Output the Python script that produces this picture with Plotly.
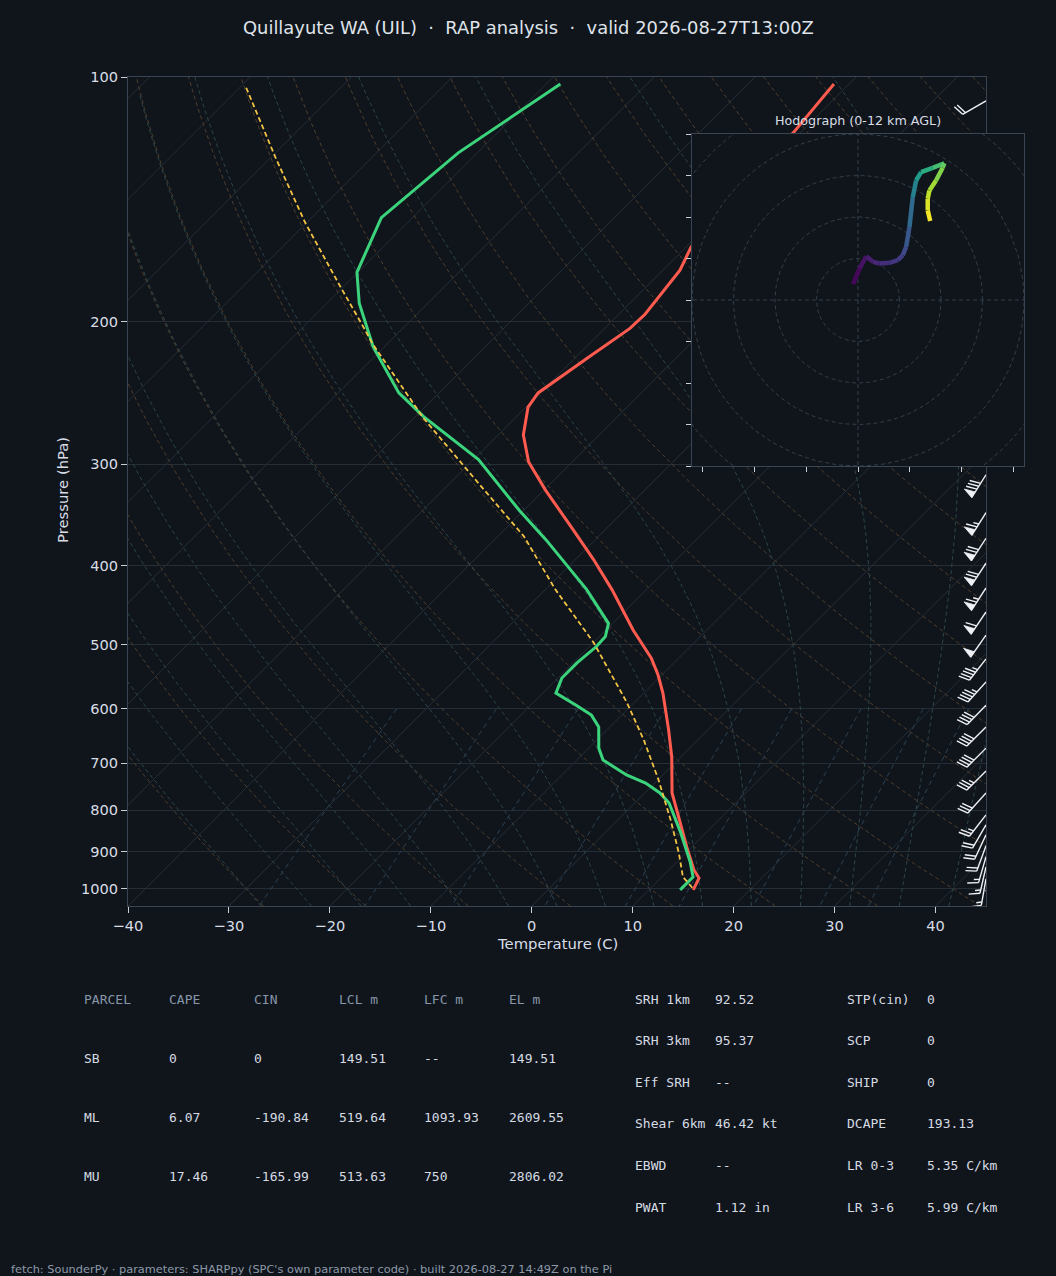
import numpy as np
import plotly.graph_objects as go
from plotly.colors import sample_colorscale

# ---- sounding ----
temp_p = [1003, 970, 948, 888, 806, 762, 688, 637, 574, 545, 520, 480, 428, 393, 361, 323,
          298, 276, 255, 245, 221, 204, 196, 173, 162, 117, 102]
temp_c = [14.4, 13.8, 12.5, 9.5, 5.2, 2.7, -0.9, -3.9, -8.1, -10.4, -12.7, -17.3, -23.4, -28.2,
          -33.2, -39.8, -44.3, -47.5, -49.8, -50.2, -48.7, -47.5, -47.4, -48.3, -49.5, -50.7, -51.5]

dwpt_p = [1003, 967, 926, 853, 784, 762, 741, 724, 694, 671, 632, 611, 594, 574, 550, 527,
          503, 489, 471, 428, 416, 372, 342, 296, 262, 245, 215, 190, 174, 149, 124, 102]
dwpt_c = [13.1, 13.1, 11.3, 7.5, 3.4, 1.5, -0.9, -3.6, -7.4, -9.0, -11.1, -13.0, -15.5, -18.7,
          -19.6, -19.6, -19.3, -19.4, -20.4, -25.9, -27.7, -34.8, -40.4, -49.5, -59.2, -64.0,
          -71.1, -76.8, -80.1, -83.1, -81.9, -78.6]

parcel_p = [997, 967, 903, 822, 734, 655, 590, 498, 428, 368, 311, 263, 213, 203, 179, 151, 126, 103]
parcel_c = [14.1, 12.1, 9.3, 5.2, 0.05, -5.4, -10.7, -19.9, -29.0, -37.4, -48.3, -59.1, -71.5,
            -74.1, -81.0, -90.2, -99.4, -109.4]

# hodograph (kt) and height AGL (km) of each point, 0-12 km
hodo_u = [-2.4, 0.8, 4.0, 7.2, 10.4, 15.2, 19.2, 21.6, 23.2, 24.8, 26.4, 28.0, 30.4, 36.0,
          41.6, 40.8, 37.6, 34.4, 33.6, 33.6, 34.8]
hodo_v = [7.7, 15.2, 21.1, 18.4, 17.6, 17.9, 19.2, 21.6, 25.6, 35.2, 49.6, 57.6, 61.6, 63.7,
          65.9, 63.7, 57.6, 52.8, 48.8, 43.2, 38.1]
hodo_z = [0.0, 0.4, 0.8, 1.1, 1.4, 1.7, 2.0, 2.4, 2.9, 3.6, 4.6, 6.0, 7.0, 7.9,
          8.8, 9.4, 10.0, 10.6, 11.1, 11.6, 12.0]

# wind barbs along the right edge
barb_p = [107, 309, 344, 370, 397, 426, 456, 487, 521, 556, 594, 632, 671, 716, 762, 811,
          834, 858, 885, 913, 940, 972, 1003]
barb_spd = [20, 80, 65, 70, 70, 65, 60, 50, 45, 45, 40, 40, 40, 35, 30, 25,
            20, 20, 20, 15, 15, 15, 5]
barb_dir = [240, 212, 212, 213, 213, 213, 214, 215, 218, 222, 224, 225, 225, 225, 222, 218,
            210, 205, 200, 196, 193, 190, 160]

# parameter tables
parcel_head = ["PARCEL", "CAPE", "CIN", "LCL m", "LFC m", "EL m"]
parcel_rows = [
    ["SB", "0", "0", "149.51", "--", "149.51"],
    ["ML", "6.07", "-190.84", "519.64", "1093.93", "2609.55"],
    ["MU", "17.46", "-165.99", "513.63", "750", "2806.02"],
]
kin_names = ["SRH 1km", "SRH 3km", "Eff SRH", "Shear 6km", "EBWD", "PWAT"]
kin_vals = ["92.52", "95.37", "--", "46.42 kt", "--", "1.12 in"]
idx_names = ["STP(cin)", "SCP", "SHIP", "DCAPE", "LR 0-3", "LR 3-6"]
idx_vals = ["0", "0", "0", "193.13", "5.35 C/km", "5.99 C/km"]

title = "Quillayute WA (UIL)  \u00b7  RAP analysis  \u00b7  valid 2026-08-27T13:00Z"
footer = ("fetch: SounderPy \u00b7 parameters: SHARPpy (SPC's own parameter code) \u00b7 "
          "built 2026-08-27 14:49Z on the Pi")

# ---- look ----
W, H = 1056, 1276
BG = "#10151c"
SPINE = "#3a4553"
GRID = "#252d37"
TXT = "#d8dde6"
MAIN_L, MAIN_R, MAIN_T, MAIN_B = 128, 986, 77, 906
HODO_L, HODO_R, HODO_T, HODO_B = 692, 1024, 134, 466
P_BOT, P_TOP = 1050.0, 100.0
T_MIN, T_MAX = -40, 45

px_per_c = (MAIN_R - MAIN_L) / (T_MAX - T_MIN)
px_per_dec = (MAIN_B - MAIN_T) / np.log10(P_BOT / P_TOP)
SKEW = px_per_dec / px_per_c   # 45 degree isotherms


def skew_x(t, p):
    return np.asarray(t, float) + SKEW * np.log10(P_BOT / np.asarray(p, float))


def joined(lines):
    xs, ys = [], []
    for x, y in lines:
        xs += list(x) + [None]
        ys += list(y) + [None]
    return xs, ys


def sat_vp(tc):
    return 6.112 * np.exp(17.67 * tc / (tc + 243.5))


def moist_lapse(t0, pres):
    # pseudo-adiabat through t0 (C) at 1000 hPa, RK4 in pressure
    def dtdp(tk, p):
        e = sat_vp(tk - 273.15)
        rs = 0.622 * e / (p - e)
        return (287.04 * tk + 2.501e6 * rs) / p / (1005.7 + 2.501e6 ** 2 * rs * 0.622 / (287.04 * tk ** 2))
    out = [t0 + 273.15]
    for p0, p1 in zip(pres[:-1], pres[1:]):
        h = p1 - p0
        t = out[-1]
        k1 = dtdp(t, p0)
        k2 = dtdp(t + h * k1 / 2, p0 + h / 2)
        k3 = dtdp(t + h * k2 / 2, p0 + h / 2)
        k4 = dtdp(t + h * k3, p1)
        out.append(t + h * (k1 + 2 * k2 + 2 * k3 + k4) / 6)
    return np.array(out) - 273.15


fig = go.Figure()

# background: isotherms, dry/moist adiabats, mixing ratio lines
iso = [(skew_x([t, t], [P_BOT, P_TOP]), [P_BOT, P_TOP]) for t in range(-130, 50, 10)]
x, y = joined(iso)
fig.add_trace(go.Scatter(x=x, y=y, mode="lines", line=dict(color=GRID, width=1),
                         hoverinfo="skip", showlegend=False))

pp = np.geomspace(P_BOT, P_TOP, 80)
dry = []
for th in range(-30, 200, 10):
    t = (th + 273.15) * (pp / 1000.0) ** 0.2857 - 273.15
    dry.append((skew_x(t, pp), pp))
x, y = joined(dry)
fig.add_trace(go.Scatter(x=x, y=y, mode="lines", line=dict(color="#4e3e2c", width=1, dash="4px,3px"),
                         hoverinfo="skip", showlegend=False))

moist = []
p_up = np.geomspace(1000, P_TOP, 90)
p_dn = np.linspace(1000, P_BOT, 6)
for t0 in list(range(-30, 0, 5)) + list(np.arange(0, 42.6, 5)):
    tu = moist_lapse(t0, p_up)
    td = moist_lapse(t0, p_dn)
    ps = np.concatenate([p_dn[::-1], p_up[1:]])
    ts = np.concatenate([td[::-1], tu[1:]])
    ok = ts > -120
    moist.append((skew_x(ts[ok], ps[ok]), ps[ok]))
x, y = joined(moist)
fig.add_trace(go.Scatter(x=x, y=y, mode="lines", line=dict(color="#2b4548", width=1, dash="4px,3px"),
                         hoverinfo="skip", showlegend=False))

mix = []
pm = np.linspace(600, P_BOT, 20)
for w in [0.4, 1, 2, 4, 7, 10, 16, 24, 32]:
    e = (w / 1000) * pm / (0.622 + w / 1000)
    le = np.log(e / 6.112)
    td = 243.5 * le / (17.67 - le)
    mix.append((skew_x(td, pm), pm))
x, y = joined(mix)
fig.add_trace(go.Scatter(x=x, y=y, mode="lines", line=dict(color="#2c4152", width=1, dash="5px,4px"),
                         hoverinfo="skip", showlegend=False))

# profiles
fig.add_trace(go.Scatter(x=skew_x(temp_c, temp_p), y=temp_p, mode="lines",
                         line=dict(color="#ff5b4e", width=3), name="T", showlegend=False))
fig.add_trace(go.Scatter(x=skew_x(dwpt_c, dwpt_p), y=dwpt_p, mode="lines",
                         line=dict(color="#3bd47c", width=3), name="Td", showlegend=False))
fig.add_trace(go.Scatter(x=skew_x(parcel_c, parcel_p), y=parcel_p, mode="lines",
                         line=dict(color="#f3c443", width=1.8, dash="5px,3px"),
                         name="parcel", showlegend=False))

# wind barbs, built in pixel space then mapped onto the skew-T axes
L = 27.0
fh, fw, sp = 0.4 * L, 0.25 * L, 0.125 * L
barb_lines, flag_polys = [], []
for p0, spd, wd in zip(barb_p, barb_spd, barb_dir):
    r = np.radians(wd)
    d = np.array([np.sin(r), np.cos(r)])       # points upwind, y up
    n = np.array([d[1], -d[0]])                # barb side (NH)

    def to_data(pts):
        pts = np.array(pts)
        return T_MAX + pts[:, 0] / px_per_c, p0 * 10 ** (-pts[:, 1] / px_per_dec)

    barb_lines.append(to_data([[0, 0], L * d]))
    s = 5 * round(spd / 5)
    nflag, rem = divmod(s, 50)
    nbarb, rem = divmod(rem, 10)
    half = rem >= 5
    pos = L
    for i in range(nflag):
        if pos != L:
            pos += sp / 2
        flag_polys.append(to_data([pos * d, (pos - fw / 2) * d + fh * n, (pos - fw) * d]))
        pos -= fw + sp
    for i in range(nbarb):
        barb_lines.append(to_data([pos * d, pos * d + fh * n + fw / 2 * d]))
        pos -= sp
    if half:
        if nflag == 0 and nbarb == 0:
            pos -= 1.5 * sp
        barb_lines.append(to_data([pos * d, pos * d + fh / 2 * n + fw / 4 * d]))

x, y = joined(barb_lines)
fig.add_trace(go.Scatter(x=x, y=y, mode="lines", line=dict(color="#eef1f5", width=1.4),
                         hoverinfo="skip", showlegend=False))
x, y = joined(flag_polys)
fig.add_trace(go.Scatter(x=x, y=y, mode="lines", fill="toself", fillcolor="#eef1f5",
                         line=dict(color="#eef1f5", width=0.8), hoverinfo="skip", showlegend=False))

# ---- hodograph inset ----
ang = np.linspace(0, 2 * np.pi, 181)
rings = [(r * np.cos(ang), r * np.sin(ang)) for r in [20, 40, 60, 80, 100]]
rings += [([-120, 120], [0, 0]), ([0, 0], [-120, 120])]
x, y = joined(rings)
fig.add_trace(go.Scatter(x=x, y=y, mode="lines", line=dict(color="#333e4a", width=1, dash="4px,3px"),
                         xaxis="x2", yaxis="y2", hoverinfo="skip", showlegend=False))

for i in range(len(hodo_u) - 1):
    zc = 0.5 * (hodo_z[i] + hodo_z[i + 1]) / 12.0
    col = sample_colorscale("Viridis", [zc])[0]
    fig.add_trace(go.Scatter(x=hodo_u[i:i + 2], y=hodo_v[i:i + 2], mode="lines",
                             line=dict(color=col, width=4.5), xaxis="x2", yaxis="y2",
                             hoverinfo="skip", showlegend=False))

# ---- layout ----
def px_x(v):
    return v / W


def px_y(v):
    return 1 - v / H


axis_common = dict(showline=True, linecolor=SPINE, linewidth=1, mirror=True, zeroline=False,
                   automargin=False, ticks="outside", ticklen=6, tickwidth=1, tickcolor="#c9cfd8",
                   tickfont=dict(family="DejaVu Sans", size=14.6, color=TXT))
inset_common = dict(showline=True, linecolor=SPINE, mirror=True, zeroline=False, showgrid=False,
                    automargin=False, ticks="outside", ticklen=5, tickcolor="#c9cfd8",
                    showticklabels=False, tickmode="array")

fig.update_layout(
    width=W, height=H, autosize=False,
    margin=dict(l=0, r=0, t=0, b=0, pad=0),
    paper_bgcolor=BG, plot_bgcolor=BG, showlegend=False,
    xaxis=dict(domain=[px_x(MAIN_L), px_x(MAIN_R)], range=[T_MIN, T_MAX], anchor="y",
               tickmode="array", tickvals=list(range(-40, 41, 10)), showgrid=False, **axis_common),
    yaxis=dict(domain=[px_y(MAIN_B), px_y(MAIN_T)], type="log",
               range=[np.log10(P_BOT), np.log10(P_TOP)], anchor="x",
               tickmode="array", tickvals=list(range(100, 1001, 100)),
               ticktext=[str(v) for v in range(100, 1001, 100)],
               showgrid=True, gridcolor=GRID, gridwidth=1, **axis_common),
    xaxis2=dict(domain=[px_x(HODO_L), px_x(HODO_R)], range=[-80, 80], anchor="y2",
                tickvals=list(range(-75, 76, 25)), **inset_common),
    yaxis2=dict(domain=[px_y(HODO_B), px_y(HODO_T)], range=[-80, 80], anchor="x2",
                tickvals=list(range(-80, 81, 20)), **inset_common),
)

ann = []


def text(x, y, s, size=13, color=TXT, family="DejaVu Sans", xanchor="left", angle=0):
    ann.append(dict(x=px_x(x), y=px_y(y), xref="paper", yref="paper", text=s, showarrow=False,
                    xanchor=xanchor, yanchor="middle", textangle=angle, borderpad=0,
                    font=dict(family=family, size=size, color=color)))


text(528, 27, title, size=17.9, color="#dfe3ea", xanchor="center")
text(557, 943, "Temperature (C)", size=14.8, xanchor="center")
text(63, 490, "Pressure (hPa)", size=14.8, xanchor="center", angle=-90)
text(858, 120, "Hodograph (0-12 km AGL)", size=12.7, xanchor="center")

MONO = "DejaVu Sans Mono"
col_x = [83, 168, 253, 338, 423, 508]
for cx, h in zip(col_x, parcel_head):
    text(cx, 999, h, size=13, color="#8796a8", family=MONO)
for ri, row in enumerate(parcel_rows):
    for cx, v in zip(col_x, row):
        text(cx, 1058 + 59 * ri, v, size=13, color="#d6dbe3", family=MONO)

for ri in range(len(kin_names)):
    yy = 999 + 41.6 * ri
    text(634, yy, kin_names[ri], size=13, color="#d6dbe3", family=MONO)
    text(714, yy, kin_vals[ri], size=13, color="#d6dbe3", family=MONO)
    text(846, yy, idx_names[ri], size=13, color="#d6dbe3", family=MONO)
    text(926, yy, idx_vals[ri], size=13, color="#d6dbe3", family=MONO)

text(10, 1269, footer, size=11.35, color="#8d99a8")

fig.update_layout(annotations=ann)

fig.write_html("out.html", config={"displayModeBar": False},
               post_script="document.body.style.margin='0';")
